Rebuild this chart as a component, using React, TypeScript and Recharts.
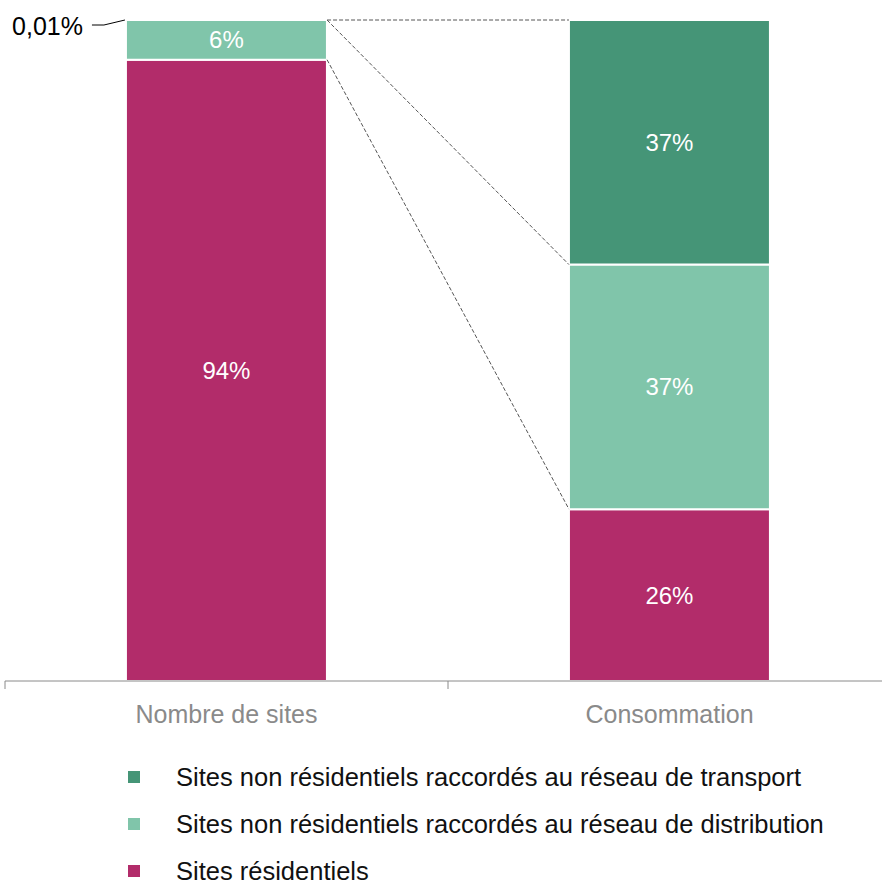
import React from 'react';
import { BarChart, Bar, XAxis, YAxis, ReferenceLine, LabelList } from 'recharts';

// Répartition : nombre de sites vs consommation
const categories = ['Nombre de sites', 'Consommation'];
const residentiels = [93.99, 26];
const distribution = [6, 37];
const transport = [0.01, 37];

const legendItems = [
  { key: 'transport', label: 'Sites non résidentiels raccordés au réseau de transport', color: '#459577' },
  { key: 'distribution', label: 'Sites non résidentiels raccordés au réseau de distribution', color: '#80C5AA' },
  { key: 'residentiels', label: 'Sites résidentiels', color: '#B22C6A' },
];

const FONT = '"Liberation Sans", Arial, sans-serif';
const GAP = 0.273; // barCategoryGap, as fraction of the band

const data = categories.map((name, i) => ({
  name,
  residentiels: residentiels[i],
  distribution: distribution[i],
  transport: transport[i],
}));

const fmt = (v: number) => (v < 1 ? String(v).replace('.', ',') + '%' : Math.round(v) + '%');

const colorOf = (k: string) => legendItems.find(l => l.key === k)!.color;

const centerLabel = (props: any) => {
  const { x, y, width, height, value } = props;
  return (
    <text
      x={x + width / 2}
      y={y + height / 2}
      textAnchor="middle"
      dominantBaseline="central"
      fill="#fff"
      fontSize={24}
      fontFamily={FONT}
    >
      {fmt(value)}
    </text>
  );
};

const transportLabel = (props: any) => {
  const { x, y, value, index } = props;
  if (index === 0) {
    return (
      <g>
        <path d={`M${x - 1},${y} L${x - 22},${y + 5} L${x - 34},${y + 5}`} stroke="#000" fill="none" strokeWidth={1} />
        <text x={x - 43} y={y + 6} textAnchor="end" dominantBaseline="central" fill="#000" fontSize={25} fontFamily={FONT}>
          {fmt(value)}
        </text>
      </g>
    );
  }
  return centerLabel(props);
};

// the bottom axis: boundaries get a tick mark, band centres get the category name
const AxisTick = (props: any) => {
  const { x, y, payload } = props;
  const v = payload.value as number;
  const idx = Math.floor(v * categories.length);
  const isBoundary = Math.abs(v * categories.length - Math.round(v * categories.length)) < 1e-6;
  if (isBoundary) {
    return <line x1={x} y1={y} x2={x} y2={y + 8} stroke="#8a8a8a" strokeWidth={1} />;
  }
  return (
    <text x={x} y={y + 33} textAnchor="middle" dominantBaseline="central" fill="#8a8a8a" fontSize={25} fontFamily={FONT}>
      {categories[idx]}
    </text>
  );
};

export default function App() {
  const n = categories.length;
  const leftX = (1 - GAP) / n;
  const rightX = (1 + GAP) / n;
  const leftTop = residentiels[0] + distribution[0] + transport[0];
  const rightTop = residentiels[1] + distribution[1] + transport[1];
  const segments = [
    [{ x: leftX, y: leftTop }, { x: rightX, y: rightTop }],
    [{ x: leftX, y: leftTop }, { x: rightX, y: residentiels[1] + distribution[1] }],
    [{ x: leftX, y: residentiels[0] }, { x: rightX, y: residentiels[1] }],
  ];
  const axisTicks = [0, 0.25, 0.5, 0.75, 1];

  return (
    <div style={{ position: 'absolute', left: 0, top: 0, width: 882, height: 883, overflow: 'hidden', background: '#fff' }}>
      <BarChart
        width={891}
        height={760}
        data={data}
        margin={{ top: 20, right: 0, left: 5, bottom: 39 }}
        barCategoryGap={`${GAP * 100}%`}
      >
        <XAxis xAxisId="cat" dataKey="name" type="category" hide height={0} />
        <XAxis
          xAxisId="num"
          type="number"
          domain={[0, 1]}
          allowDataOverflow
          ticks={axisTicks}
          interval={0}
          height={40}
          tickSize={0}
          tickMargin={0}
          tickLine={false}
          axisLine={{ stroke: '#8a8a8a' }}
          tick={<AxisTick />}
        />
        <YAxis hide domain={[0, 100]} />
        <Bar xAxisId="cat" dataKey="residentiels" stackId="a" fill={colorOf('residentiels')} stroke="#fff" strokeWidth={2} isAnimationActive={false}>
          <LabelList dataKey="residentiels" content={centerLabel} />
        </Bar>
        <Bar xAxisId="cat" dataKey="distribution" stackId="a" fill={colorOf('distribution')} stroke="#fff" strokeWidth={2} isAnimationActive={false}>
          <LabelList dataKey="distribution" content={centerLabel} />
        </Bar>
        <Bar xAxisId="cat" dataKey="transport" stackId="a" fill={colorOf('transport')} stroke="#fff" strokeWidth={2} isAnimationActive={false}>
          <LabelList dataKey="transport" content={transportLabel} />
        </Bar>
        {segments.map((s, i) => (
          <ReferenceLine key={i} xAxisId="num" segment={s} stroke="#555" strokeDasharray="4 2" strokeWidth={1} ifOverflow="visible" />
        ))}
      </BarChart>
      {legendItems.map((l, i) => (
        <div
          key={l.key}
          style={{
            position: 'absolute',
            left: 128,
            top: 760 + i * 47,
            height: 34,
            display: 'flex',
            alignItems: 'center',
            fontFamily: FONT,
            fontSize: 25.5,
            color: '#111',
            whiteSpace: 'nowrap',
          }}
        >
          <span style={{ display: 'inline-block', width: 12, height: 12, background: l.color, marginRight: 36 }} />
          {l.label}
        </div>
      ))}
    </div>
  );
}
